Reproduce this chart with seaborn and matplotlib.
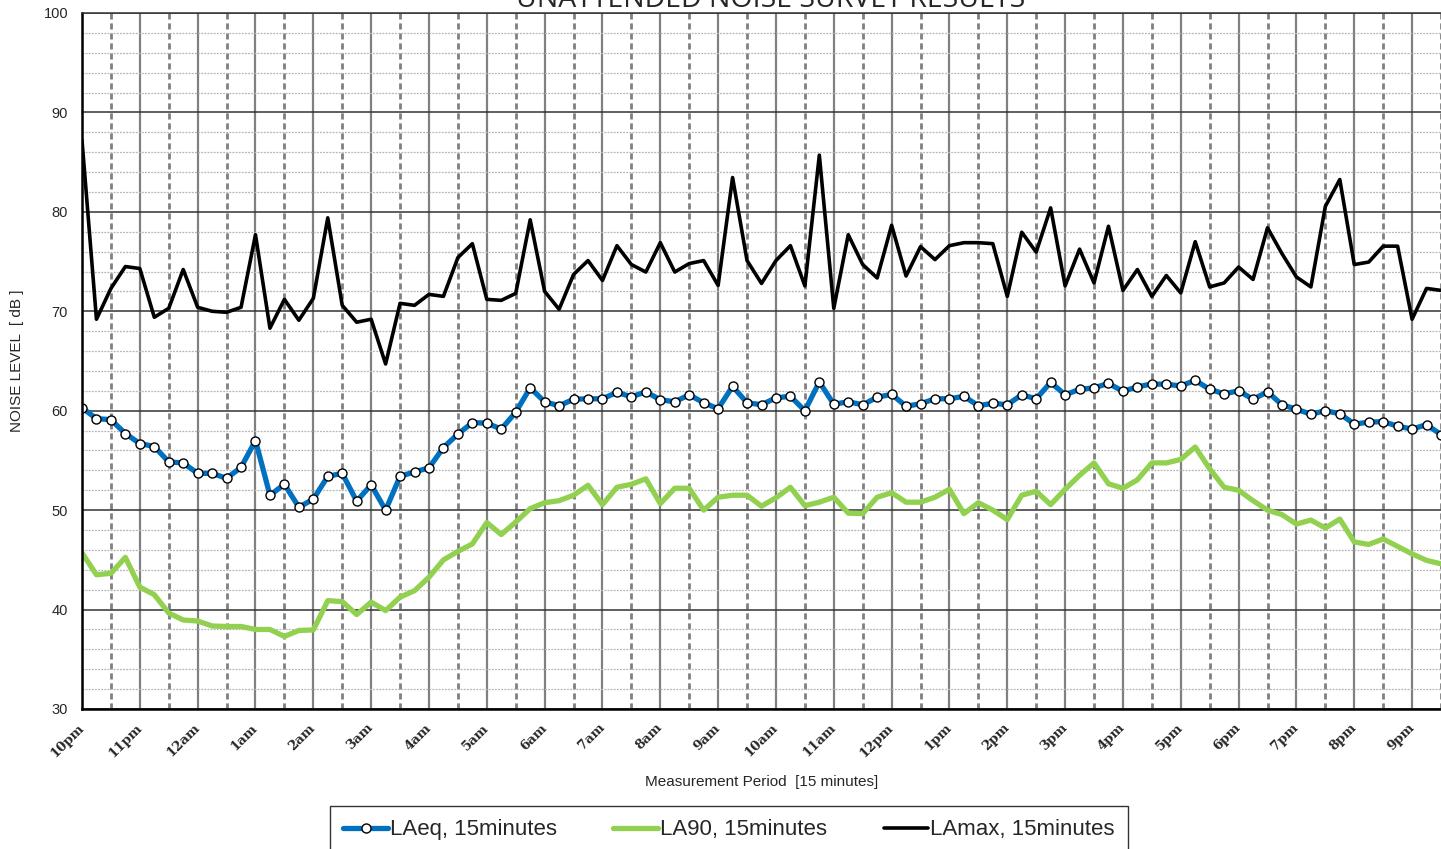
import numpy as np
import pandas as pd
import matplotlib
matplotlib.use('Agg')
import matplotlib.pyplot as plt
from matplotlib.ticker import MultipleLocator
import seaborn as sns

# 15-minute periods starting at 10pm
hour_labels = ['10pm', '11pm', '12am', '1am', '2am', '3am', '4am', '5am', '6am',
               '7am', '8am', '9am', '10am', '11am', '12pm', '1pm', '2pm', '3pm',
               '4pm', '5pm', '6pm', '7pm', '8pm', '9pm']

laeq = [60.3, 59.2, 59.1, 57.7, 56.7, 56.4, 54.85, 54.75, 53.7, 53.7,
        53.2, 54.3, 57.0, 51.5, 52.6, 50.3, 51.1, 53.4, 53.7, 50.9,
        52.55, 50.0, 53.4, 53.85, 54.25, 56.3, 57.65, 58.8, 58.75, 58.15,
        59.85, 62.3, 60.9, 60.5, 61.15, 61.2, 61.2, 61.85, 61.4, 61.9,
        61.1, 60.9, 61.6, 60.8, 60.2, 62.45, 60.8, 60.6, 61.3, 61.45,
        60.0, 62.9, 60.65, 60.9, 60.6, 61.35, 61.65, 60.45, 60.7, 61.2,
        61.2, 61.45, 60.5, 60.75, 60.6, 61.6, 61.2, 62.85, 61.6, 62.15,
        62.3, 62.75, 61.95, 62.4, 62.7, 62.65, 62.5, 63.05, 62.15, 61.7,
        62.0, 61.15, 61.9, 60.6, 60.15, 59.65, 60.0, 59.7, 58.65, 58.85,
        58.9, 58.45, 58.15, 58.6, 57.6]

la90 = [45.7, 43.5, 43.65, 45.25, 42.25, 41.5, 39.65, 38.95, 38.85, 38.35,
        38.3, 38.3, 38.0, 38.0, 37.3, 37.9, 37.95, 40.9, 40.8, 39.5,
        40.75, 39.9, 41.25, 41.9, 43.25, 45.0, 45.85, 46.6, 48.75, 47.55,
        48.8, 50.15, 50.75, 50.95, 51.5, 52.5, 50.55, 52.3, 52.6, 53.15,
        50.65, 52.2, 52.2, 50.0, 51.3, 51.5, 51.5, 50.4, 51.25, 52.3,
        50.45, 50.8, 51.3, 49.7, 49.65, 51.3, 51.75, 50.8, 50.8, 51.3,
        52.1, 49.65, 50.75, 50.0, 49.05, 51.5, 51.9, 50.55, 52.1, 53.5,
        54.75, 52.65, 52.2, 53.05, 54.75, 54.75, 55.1, 56.35, 54.15, 52.3,
        52.0, 50.95, 50.0, 49.55, 48.6, 49.0, 48.2, 49.1, 46.8, 46.55,
        47.1, 46.35, 45.6, 44.95, 44.6]

lamax = [87.2, 69.2, 72.3, 74.5, 74.3, 69.4, 70.3, 74.2, 70.4, 70.0,
         69.9, 70.4, 77.7, 68.3, 71.2, 69.1, 71.3, 79.4, 70.6, 68.9,
         69.2, 64.7, 70.8, 70.6, 71.7, 71.5, 75.4, 76.8, 71.2, 71.1,
         71.8, 79.2, 72.0, 70.2, 73.7, 75.1, 73.1, 76.6, 74.7, 73.95,
         76.9, 73.95, 74.8, 75.1, 72.6, 83.45, 75.1, 72.8, 75.1, 76.6,
         72.55, 85.7, 70.3, 77.7, 74.7, 73.35, 78.65, 73.55, 76.5, 75.2,
         76.6, 76.9, 76.9, 76.8, 71.5, 77.95, 75.95, 80.4, 72.55, 76.25,
         72.85, 78.55, 72.1, 74.2, 71.5, 73.6, 71.85, 77.0, 72.45, 72.85,
         74.45, 73.2, 78.4, 75.8, 73.45, 72.45, 80.55, 83.25, 74.7, 74.95,
         76.55, 76.55, 69.2, 72.3, 72.1]

df = pd.DataFrame({'period': np.arange(len(laeq)), 'LAeq': laeq,
                   'LA90': la90, 'LAmax': lamax})

sns.set_style('white')
plt.rcParams['font.family'] = ['Liberation Sans', 'DejaVu Sans']

fig = plt.figure(figsize=(14.41, 8.49), dpi=100)
ax = fig.add_axes([82 / 1441, 1 - 709 / 849, 1 - 82 / 1441, 696 / 849])

# grid first so the series sit on top
ax.set_axisbelow(True)
ax.xaxis.set_major_locator(MultipleLocator(4))
ax.xaxis.set_minor_locator(MultipleLocator(2))
ax.yaxis.set_major_locator(MultipleLocator(10))
ax.yaxis.set_minor_locator(MultipleLocator(2))
ax.grid(which='major', axis='y', color='#333333', lw=1.1, ls='-')
ax.grid(which='minor', axis='y', color='#b5b5b5', lw=0.9, ls=(0, (1.5, 1)))
ax.grid(which='major', axis='x', color='#808080', lw=1.6, ls='-')
ax.grid(which='minor', axis='x', color='#808080', lw=2.0, ls=(0, (2.2, 1.4)))

sns.lineplot(data=df, x='period', y='LAmax', ax=ax, color='black', lw=2.6,
             label='LAmax, 15minutes', legend=False)
sns.lineplot(data=df, x='period', y='LA90', ax=ax, color='#92D050', lw=3.8,
             label='LA90, 15minutes', legend=False)
sns.lineplot(data=df, x='period', y='LAeq', ax=ax, color='#0070C0', lw=3.8,
             marker='o', markersize=6.5, markerfacecolor='white',
             markeredgecolor='black', markeredgewidth=1.0,
             label='LAeq, 15minutes', legend=False)

ax.set_xlim(0, 94)
ax.set_ylim(30, 100)
ax.set_xticks(np.arange(0, 4 * len(hour_labels), 4))
ax.set_xticklabels(hour_labels, rotation=45, ha='right', va='center',
                   rotation_mode='anchor', fontsize=9.5, fontweight='bold',
                   family=['DejaVu Serif'])
ax.tick_params(axis='x', which='major', direction='inout', length=8, width=1.2,
               color='black', pad=8)
ax.tick_params(axis='x', which='minor', length=0)
ax.tick_params(axis='y', which='major', direction='out', length=6, width=1.2,
               color='black', labelsize=10.5, pad=4)
ax.tick_params(axis='y', which='minor', length=0)

for side in ['left', 'bottom']:
    ax.spines[side].set_color('black')
    ax.spines[side].set_linewidth(1.8)
ax.spines['top'].set_color('#333333')
ax.spines['top'].set_linewidth(1.1)
ax.spines['right'].set_visible(False)

ax.set_xlabel('Measurement Period  [15 minutes]', fontsize=11, labelpad=11)
ax.set_ylabel('NOISE LEVEL  [ dB ]', fontsize=11)
ax.yaxis.set_label_coords(-0.0427, 0.5)

fig.text(771 / 1441, 1 - 7 / 849, 'UNATTENDED NOISE SURVEY RESULTS',
         ha='center', va='baseline', fontsize=20.5, family=['Open Sans', 'DejaVu Sans'])

handles, labels = ax.get_legend_handles_labels()
order = [2, 1, 0]
leg = fig.legend([handles[i] for i in order], [labels[i] for i in order],
                 loc='upper left', mode='expand',
                 bbox_to_anchor=(330 / 1441, 0, 798 / 1441, 1 - 806 / 849),
                 ncol=3, frameon=True, fancybox=False, edgecolor='black',
                 prop={'size': 16},
                 handlelength=2.0, handletextpad=0.1, columnspacing=1.9,
                 borderpad=0.6, borderaxespad=0)
leg.get_frame().set_linewidth(1.0)

fig.savefig('out.png', dpi=100)
